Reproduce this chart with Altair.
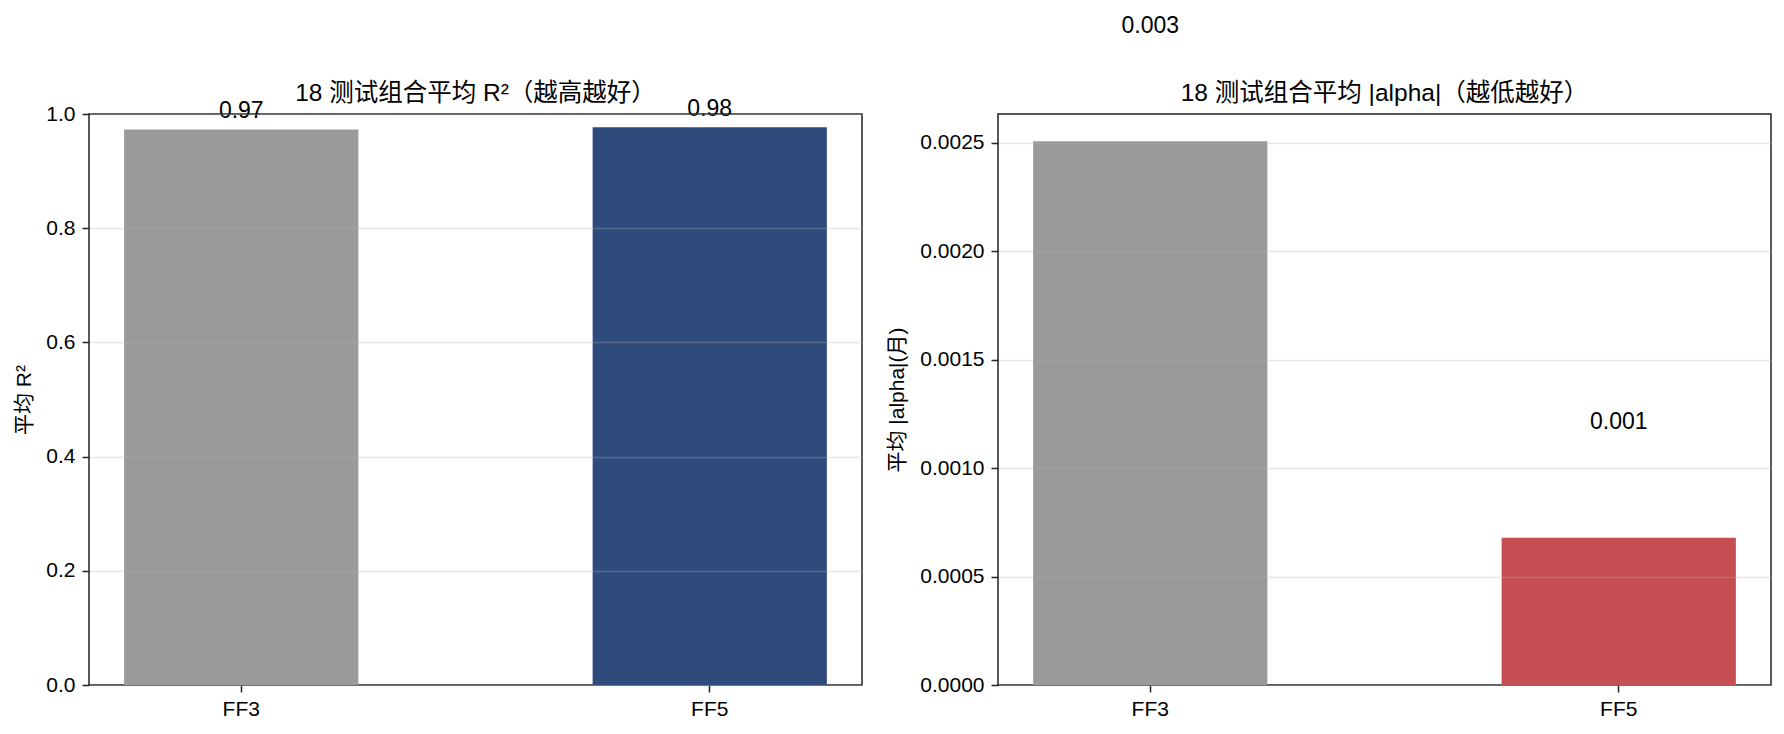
import altair as alt
import pandas as pd

models = ["FF3", "FF5"]
r2_values = [0.973, 0.977]
alpha_values = [0.002507, 0.000679]
r2_labels = ["0.97", "0.98"]
alpha_labels = ["0.003", "0.001"]
r2_colors = ["#9a9a9a", "#2f4b7c"]
alpha_colors = ["#9a9a9a", "#c44e52"]
r2_ticks = [0.0, 0.2, 0.4, 0.6, 0.8, 1.0]
alpha_ticks = [0.0, 0.0005, 0.0010, 0.0015, 0.0020, 0.0025]
titles = ["18 测试组合平均 R²（越高越好）", "18 测试组合平均 |alpha|（越低越好）"]
ytitles = ["平均 R²", "平均 |alpha|(月)"]

FONT = "Liberation Sans, Arial, Noto Sans CJK SC, sans-serif"
W, H = 773, 571


def panel(values, labels, colors, ticks, fmt, ymax, offset, title, ytitle, title_x, title_dy):
    df = pd.DataFrame({"model": models, "value": values, "label": labels, "color": colors})
    xs = alt.Scale(domain=models, paddingInner=0.5, paddingOuter=0.075)
    ys = alt.Scale(domain=[0, ymax], nice=False, zero=True)
    x_axis = alt.Axis(title=None, labelAngle=0, labelFont=FONT, labelFontSize=21,
                      labelColor="black", labelPadding=6, tickSize=7, tickWidth=1.5,
                      tickColor="#222222", domain=False, grid=False)
    y_axis = alt.Axis(title=ytitle, values=ticks, format=fmt, grid=True,
                      gridColor="#b0b0b0", gridOpacity=0.3, gridWidth=1.3,
                      domain=False, tickSize=7, tickWidth=1.5, tickColor="#222222",
                      labelFont=FONT, labelFontSize=21, labelColor="black",
                      labelPadding=7, titleFont=FONT, titleFontSize=21,
                      titleFontWeight="normal", titleColor="black",
                      titleX=title_x, titleBaseline="middle", zindex=1)
    bars = alt.Chart(df).mark_bar().encode(
        x=alt.X("model:N", scale=xs, sort=models, axis=x_axis),
        y=alt.Y("value:Q", scale=ys, axis=y_axis),
        color=alt.Color("color:N", scale=None),
    )
    text = alt.Chart(df).transform_calculate(value=f"datum.value + {offset}").mark_text(
        baseline="alphabetic", align="center", font=FONT, fontSize=23, color="black"
    ).encode(
        x=alt.X("model:N", scale=xs, sort=models, axis=x_axis),
        y=alt.Y("value:Q", scale=ys, axis=y_axis),
        text="label:N",
    )
    return alt.layer(bars, text).properties(
        width=W, height=H,
        title=alt.Title(title, font=FONT, fontSize=24.5, fontWeight="normal", color="black",
                        offset=9, anchor="middle", dy=title_dy),
    )


left = panel(r2_values, r2_labels, r2_colors, r2_ticks, ".1f", 1.0, 0.02,
             titles[0], ytitles[0], -65, 18)
right = panel(alpha_values, alpha_labels, alpha_colors, alpha_ticks, ".4f",
              max(alpha_values) * 1.05, 0.0005, titles[1], ytitles[1], -101, 101)

chart = alt.hconcat(left, right, spacing=22).properties(
    padding={"left": 12, "top": 13, "right": 10, "bottom": 10},
    background="white",
).configure_view(stroke="#222222", strokeWidth=1.5).configure_concat(spacing=22)

chart.save("out.html", embed_options={"renderer": "svg", "actions": False})
